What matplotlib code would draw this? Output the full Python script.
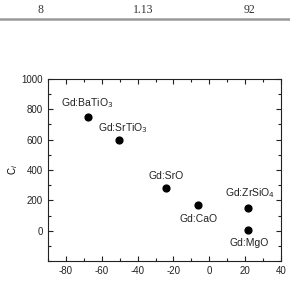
import matplotlib
matplotlib.use("Agg")
import matplotlib.pyplot as plt
from matplotlib.ticker import MultipleLocator

plt.rcParams['font.family'] = ['Liberation Sans', 'DejaVu Sans']
plt.rcParams['axes.unicode_minus'] = False

labels = ["Gd:BaTiO$_3$", "Gd:SrTiO$_3$", "Gd:SrO", "Gd:CaO", "Gd:ZrSiO$_4$", "Gd:MgO"]
x_vals = [-67.5, -50.4, -24.3, -6.3, 21.8, 21.8]
y_vals = [750, 600, 280, 167, 149, 5]
label_offsets = [(-1, 14), (4, 12), (0, 12), (1, -14), (2, 15), (1, -13)]
table_texts = ["8", "1.13", "92"]

fig = plt.figure(figsize=(2.90, 2.83), dpi=100)
fig.patch.set_facecolor("white")

# table fragment at top
for t, xp in zip(table_texts, [41, 143, 250]):
    fig.text(xp / 290, 1 - 10 / 283, t, ha="center", va="center",
             fontsize=8.5, family="Liberation Serif", color="#333333")
fig.add_artist(plt.Line2D([0, 1], [1 - 19 / 283, 1 - 19 / 283], color="#999999", lw=1.8))

ax = fig.add_axes([48 / 290, 22 / 283, 233 / 290, 182 / 283])
ax.scatter(x_vals, y_vals, s=24, color="black", zorder=3)
for lab, xv, yv, off in zip(labels, x_vals, y_vals, label_offsets):
    ax.annotate(lab, (xv, yv), xytext=off, textcoords="offset pixels",
                ha="center", va="center", fontsize=7.5, color="#222222")

ax.set_xlim(-90, 40)
ax.set_ylim(-200, 1000)
ax.xaxis.set_major_locator(MultipleLocator(20))
ax.xaxis.set_minor_locator(MultipleLocator(10))
ax.yaxis.set_major_locator(MultipleLocator(200))
ax.yaxis.set_minor_locator(MultipleLocator(100))
ax.tick_params(which="both", direction="in", top=True, right=True, labelsize=7,
               colors="#222222", width=0.8)
ax.tick_params(which="major", length=3.5)
ax.tick_params(which="minor", length=2)
ax.set_xticks([-80, -60, -40, -20, 0, 20, 40])
ax.set_yticks([0, 200, 400, 600, 800, 1000])
for sp in ax.spines.values():
    sp.set_linewidth(0.8)
    sp.set_color("#222222")
ax.set_ylabel("C$_i$", fontsize=7)
ax.yaxis.set_label_coords(-0.12, 0.5)

fig.savefig("out.png", dpi=100)
